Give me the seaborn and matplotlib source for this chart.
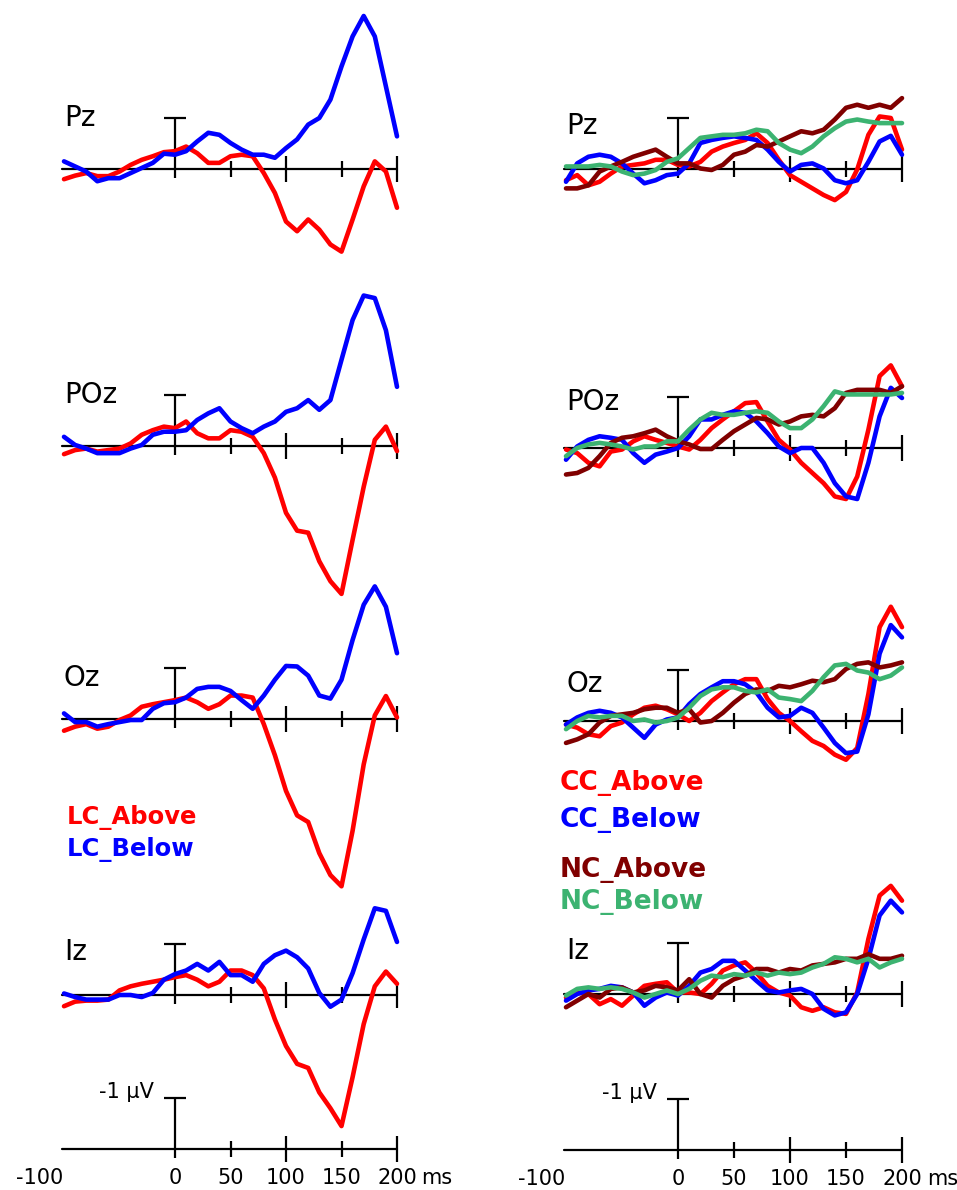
import matplotlib
matplotlib.use("Agg")
import matplotlib.pyplot as plt
import pandas as pd
import seaborn as sns

# tiempo en ms, amplitud en µV (negativo hacia arriba)
times = list(range(-100, 201, 10))
channels = ["Pz", "POz", "Oz", "Iz"]

# columna izquierda: LC
lc_above_pz = [0.20, 0.13, 0.08, 0.14, 0.14, 0.05, -0.08, -0.18, -0.25, -0.33, -0.35, -0.44, -0.31, -0.12, -0.12, -0.25,
               -0.28, -0.25, 0.08, 0.47, 1.03, 1.22, 0.99, 1.19, 1.48, 1.62, 0.99, 0.34, -0.15, 0.05, 0.76]
lc_below_pz = [-0.15, -0.05, 0.05, 0.24, 0.18, 0.18, 0.08, -0.02, -0.12, -0.30, -0.28, -0.35, -0.54, -0.71, -0.67, -0.51,
               -0.38, -0.28, -0.28, -0.22, -0.41, -0.58, -0.87, -1.00, -1.36, -2.01, -2.60, -3.00, -2.60, -1.62, -0.64]
lc_above_poz = [0.16, 0.08, 0.05, 0.11, 0.08, 0.05, -0.05, -0.22, -0.31, -0.38, -0.35, -0.48, -0.25, -0.15, -0.15, -0.31,
                -0.28, -0.18, 0.14, 0.62, 1.31, 1.66, 1.70, 2.26, 2.65, 2.90, 1.84, 0.80, -0.12, -0.38, 0.10]
lc_below_poz = [-0.18, -0.02, 0.05, 0.14, 0.14, 0.14, 0.05, -0.02, -0.22, -0.28, -0.28, -0.31, -0.51, -0.64, -0.74, -0.48,
                -0.35, -0.25, -0.38, -0.48, -0.67, -0.74, -0.90, -0.71, -0.90, -1.69, -2.47, -2.95, -2.90, -2.27, -1.16]
lc_above_oz = [0.23, 0.15, 0.10, 0.19, 0.15, 0.02, -0.07, -0.24, -0.29, -0.33, -0.37, -0.42, -0.33, -0.20, -0.29, -0.46,
               -0.46, -0.42, 0.10, 0.71, 1.41, 1.89, 2.02, 2.63, 3.06, 3.28, 2.19, 0.89, -0.07, -0.45, -0.03]
lc_below_oz = [-0.11, 0.06, 0.06, 0.15, 0.10, 0.06, 0.02, 0.02, -0.20, -0.31, -0.33, -0.42, -0.59, -0.63, -0.63, -0.55,
               -0.37, -0.20, -0.46, -0.77, -1.04, -1.03, -0.85, -0.46, -0.40, -0.77, -1.55, -2.24, -2.60, -2.20, -1.29]
lc_above_iz = [0.22, 0.13, 0.11, 0.11, 0.09, -0.09, -0.17, -0.22, -0.26, -0.30, -0.35, -0.39, -0.30, -0.17, -0.26, -0.48,
               -0.48, -0.39, -0.13, 0.48, 1.00, 1.35, 1.43, 1.91, 2.22, 2.57, 1.61, 0.57, -0.17, -0.46, -0.22]
lc_below_iz = [-0.03, 0.04, 0.09, 0.09, 0.09, 0.00, 0.00, 0.04, -0.04, -0.30, -0.41, -0.48, -0.61, -0.48, -0.65, -0.39,
               -0.39, -0.26, -0.61, -0.78, -0.87, -0.74, -0.52, -0.04, 0.23, 0.09, -0.43, -1.09, -1.70, -1.65, -1.04]

# columna derecha: CC y NC
cc_above_pz = [0.22, 0.12, 0.32, 0.25, 0.09, -0.05, -0.08, -0.11, -0.18, -0.18, -0.08, -0.05, -0.14, -0.34, -0.44, -0.51,
               -0.57, -0.70, -0.51, -0.18, 0.12, 0.25, 0.38, 0.51, 0.61, 0.45, 0.01, -0.67, -1.03, -1.00, -0.38]
cc_below_pz = [0.25, -0.11, -0.24, -0.28, -0.24, -0.11, 0.09, 0.28, 0.22, 0.12, 0.09, -0.11, -0.51, -0.57, -0.61, -0.64,
               -0.61, -0.57, -0.38, -0.14, 0.05, -0.08, -0.11, -0.01, 0.22, 0.28, 0.22, -0.14, -0.54, -0.65, -0.28]
nc_above_pz = [0.38, 0.38, 0.32, 0.05, -0.05, -0.14, -0.24, -0.31, -0.38, -0.24, -0.11, -0.11, -0.01, 0.02, -0.08, -0.28,
               -0.34, -0.47, -0.44, -0.54, -0.64, -0.74, -0.70, -0.77, -0.97, -1.20, -1.26, -1.20, -1.26, -1.20, -1.39]
nc_below_pz = [-0.05, -0.05, -0.05, -0.08, -0.05, 0.05, 0.12, 0.09, 0.02, -0.14, -0.21, -0.41, -0.61, -0.64, -0.67, -0.67,
               -0.70, -0.77, -0.74, -0.51, -0.38, -0.31, -0.44, -0.64, -0.80, -0.93, -0.97, -0.93, -0.90, -0.90, -0.90]
cc_above_poz = [0.03, 0.10, 0.29, 0.36, 0.07, 0.03, -0.13, -0.23, -0.16, -0.10, -0.03, 0.03, -0.16, -0.39, -0.56, -0.72,
                -0.88, -0.90, -0.52, -0.16, 0.03, 0.29, 0.49, 0.69, 0.95, 1.00, 0.56, -0.36, -1.41, -1.62, -1.21]
cc_below_poz = [0.23, -0.03, -0.16, -0.23, -0.20, -0.16, 0.10, 0.29, 0.13, 0.07, 0.00, -0.23, -0.56, -0.56, -0.65, -0.72,
                -0.69, -0.52, -0.29, -0.03, 0.10, 0.00, 0.00, 0.29, 0.69, 0.95, 1.00, 0.29, -0.62, -1.18, -0.98]
nc_above_poz = [0.52, 0.49, 0.39, 0.16, -0.10, -0.20, -0.23, -0.29, -0.36, -0.23, -0.13, -0.07, 0.02, 0.02, -0.16, -0.33,
                -0.46, -0.59, -0.56, -0.46, -0.52, -0.62, -0.65, -0.62, -0.78, -1.08, -1.14, -1.14, -1.14, -1.08, -1.21]
nc_below_poz = [0.16, 0.00, -0.07, -0.10, -0.07, -0.03, 0.03, -0.03, -0.03, -0.13, -0.13, -0.36, -0.56, -0.69, -0.65, -0.65,
                -0.69, -0.72, -0.69, -0.52, -0.39, -0.39, -0.56, -0.82, -1.11, -1.05, -1.05, -1.05, -1.05, -1.05, -1.08]
cc_above_oz = [0.07, 0.13, 0.26, 0.30, 0.10, 0.03, -0.13, -0.26, -0.30, -0.23, -0.13, 0.00, -0.16, -0.39, -0.56, -0.72,
               -0.82, -0.82, -0.43, -0.16, 0.00, 0.20, 0.39, 0.49, 0.66, 0.76, 0.53, -0.53, -1.84, -2.24, -1.84]
cc_below_oz = [0.07, -0.07, -0.16, -0.20, -0.16, -0.07, 0.13, 0.33, 0.07, -0.03, -0.07, -0.33, -0.53, -0.66, -0.78, -0.78,
               -0.72, -0.56, -0.26, -0.07, -0.10, -0.26, -0.16, 0.13, 0.43, 0.63, 0.60, -0.13, -1.32, -1.88, -1.64]
nc_above_oz = [0.43, 0.36, 0.26, 0.03, -0.10, -0.13, -0.16, -0.23, -0.26, -0.26, -0.16, -0.23, 0.03, 0.00, -0.16, -0.36,
               -0.53, -0.62, -0.59, -0.69, -0.66, -0.72, -0.79, -0.76, -0.82, -1.02, -1.12, -1.15, -1.05, -1.09, -1.15]
nc_below_oz = [0.16, 0.00, -0.10, -0.07, -0.10, -0.10, 0.00, -0.03, 0.03, 0.00, -0.07, -0.26, -0.49, -0.62, -0.66, -0.66,
               -0.59, -0.56, -0.62, -0.46, -0.43, -0.39, -0.59, -0.86, -1.09, -1.12, -0.99, -0.95, -0.82, -0.89, -1.05]
cc_above_iz = [0.07, -0.03, 0.00, 0.20, 0.10, 0.23, 0.03, -0.16, -0.20, -0.23, -0.03, -0.03, 0.00, -0.20, -0.46, -0.56,
               -0.62, -0.42, -0.16, -0.03, 0.03, 0.26, 0.33, 0.26, 0.36, 0.39, -0.03, -1.08, -1.93, -2.12, -1.83]
cc_below_iz = [0.13, 0.00, -0.07, -0.10, -0.16, -0.13, -0.03, 0.23, 0.07, -0.03, 0.03, -0.16, -0.42, -0.49, -0.65, -0.65,
               -0.46, -0.26, -0.07, -0.03, -0.07, -0.10, 0.00, 0.29, 0.42, 0.36, 0.00, -0.69, -1.54, -1.83, -1.60]
nc_above_iz = [0.26, 0.13, 0.00, 0.07, -0.10, -0.13, -0.03, -0.07, -0.16, -0.13, -0.07, -0.29, 0.00, 0.07, -0.16, -0.29,
               -0.36, -0.49, -0.49, -0.42, -0.49, -0.46, -0.56, -0.59, -0.62, -0.69, -0.69, -0.78, -0.69, -0.69, -0.75]
nc_below_iz = [0.03, -0.10, -0.13, -0.10, -0.13, -0.10, -0.03, 0.07, 0.00, -0.07, 0.00, -0.10, -0.26, -0.36, -0.33, -0.39,
               -0.36, -0.42, -0.36, -0.42, -0.39, -0.42, -0.52, -0.59, -0.72, -0.69, -0.62, -0.69, -0.52, -0.62, -0.69]

tick_labels = ["-100", "0", "50", "100", "150", "200"]
tick_pos = [-100, 0, 50, 100, 150, 200]

# tamaño de la figura en pixeles y escala vertical
W, H = 957, 1190
PX_UV = 51
SPAN = 3.5

sns.set_style("white")
plt.rcParams['font.family'] = ['DejaVu Sans']
plt.rcParams['text.color'] = 'black'

fig = plt.figure(figsize=(W / 100, H / 100), dpi=100)


def crear_ejes(x0, x1, base):
    half = SPAN * PX_UV
    ax = fig.add_axes([x0 / W, 1 - (base + half) / H, (x1 - x0) / W, 2 * half / H])
    ax.patch.set_alpha(0)
    return ax


def fijar_limites(ax):
    ax.set_xlim(-100, 200)
    ax.set_ylim(SPAN, -SPAN)
    ax.set_axis_off()


def dibujar_eje(ax):
    kw = dict(color="black", linewidth=1.6, clip_on=False)
    ax.plot([-102, 200], [0, 0], **kw)
    ax.vlines([50, 150], -0.16, 0.16, **kw)
    ax.vlines([100, 200], -0.25, 0.25, **kw)
    ax.vlines(0, 0.17, -1, **kw)
    ax.hlines(-1, -10, 10, **kw)


columnas = [
    dict(x0=64, x1=397,
         conds=["LC_Above", "LC_Below"],
         colores=["#ff0000", "#0000ff"],
         series=[[lc_above_pz, lc_below_pz], [lc_above_poz, lc_below_poz],
                 [lc_above_oz, lc_below_oz], [lc_above_iz, lc_below_iz]],
         bases=[169, 446, 719, 995], escala=1149,
         label_y=[-1.0, -1.0, -0.8, -0.85]),
    dict(x0=566, x1=902,
         conds=["CC_Above", "CC_Below", "NC_Above", "NC_Below"],
         colores=["#ff0000", "#0000ff", "#800000", "#3cb371"],
         series=[[cc_above_pz, cc_below_pz, nc_above_pz, nc_below_pz],
                 [cc_above_poz, cc_below_poz, nc_above_poz, nc_below_poz],
                 [cc_above_oz, cc_below_oz, nc_above_oz, nc_below_oz],
                 [cc_above_iz, cc_below_iz, nc_above_iz, nc_below_iz]],
         bases=[169, 448, 721, 994], escala=1150,
         label_y=[-0.85, -0.9, -0.72, -0.85]),
]

for col in columnas:
    paleta = dict(zip(col["conds"], col["colores"]))
    for i, canal in enumerate(channels):
        ax = crear_ejes(col["x0"], col["x1"], col["bases"][i])
        dibujar_eje(ax)
        filas = []
        for cond, vals in zip(col["conds"], col["series"][i]):
            filas.append(pd.DataFrame({"time": times, "uv": vals, "cond": cond}))
        df = pd.concat(filas, ignore_index=True)
        sns.lineplot(data=df, x="time", y="uv", hue="cond", hue_order=col["conds"],
                     palette=paleta, estimator=None, legend=False, linewidth=3.3,
                     ax=ax, clip_on=False, solid_joinstyle="round", solid_capstyle="round")
        fijar_limites(ax)
        ax.text(-100, col["label_y"][i], canal, fontsize=20, ha="left", va="center", color="black")

    # barra de escala con etiquetas de tiempo
    ax = crear_ejes(col["x0"], col["x1"], col["escala"])
    dibujar_eje(ax)
    fijar_limites(ax)
    for pos, lab in zip(tick_pos, tick_labels):
        ax.text(pos - 1 if pos == -100 else pos, 0.56, lab, fontsize=15, color="black",
                ha="right" if pos == -100 else "center", va="center")
    ax.text(222, 0.56, "ms", fontsize=15, ha="left", va="center", color="black")
    ax.text(-19, -1.12, "-1 µV", fontsize=15, ha="right", va="center", color="black")

# leyendas
fig.text(67 / W, 1 - 818 / H, "LC_Above", color="#ff0000", fontsize=17.5, fontweight="bold", va="center")
fig.text(67 / W, 1 - 850 / H, "LC_Below", color="#0000ff", fontsize=17.5, fontweight="bold", va="center")
fig.text(560 / W, 1 - 783 / H, "CC_Above", color="#ff0000", fontsize=19, fontweight="bold", va="center")
fig.text(560 / W, 1 - 820 / H, "CC_Below", color="#0000ff", fontsize=19, fontweight="bold", va="center")
fig.text(560 / W, 1 - 870 / H, "NC_Above", color="#800000", fontsize=19, fontweight="bold", va="center")
fig.text(560 / W, 1 - 902 / H, "NC_Below", color="#3cb371", fontsize=19, fontweight="bold", va="center")

fig.savefig("out.png", dpi=100)
